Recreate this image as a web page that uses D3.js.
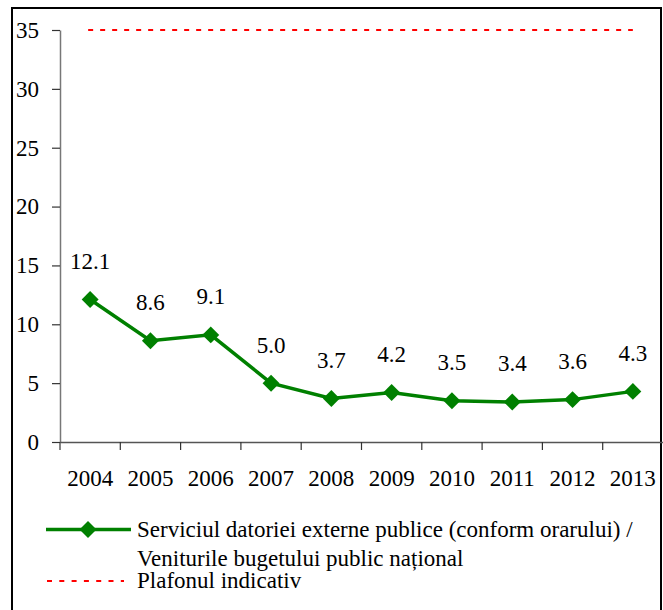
<!DOCTYPE html>
<html>
<head>
<meta charset="utf-8">
<script src="https://cdn.jsdelivr.net/npm/d3@7"></script>
<style>
  body { margin: 0; background: #fff; }
  svg, svg text { font-family: "Liberation Serif", "Times New Roman", serif !important; }
</style>
</head>
<body>
<svg width="663" height="610"></svg>
<script>
// chart data
var years = ["2004", "2005", "2006", "2007", "2008", "2009", "2010", "2011", "2012", "2013"];
var values = [12.1, 8.6, 9.1, 5.0, 3.7, 4.2, 3.5, 3.4, 3.6, 4.3];
var ceiling = 35;
var yTicks = [0, 5, 10, 15, 20, 25, 30, 35];
var seriesName = ["Serviciul datoriei externe publice (conform orarului) /", "Veniturile bugetului public național"];
var ceilingName = "Plafonul indicativ";

var svg = d3.select("svg");
var fs = 23;

// outer frame
svg.append("rect")
    .attr("x", 12).attr("y", 8)
    .attr("width", 649).attr("height", 610)
    .attr("fill", "none").attr("stroke", "#000").attr("stroke-width", 2);

var x = d3.scaleBand().domain(years).range([60, 663]);
var y = d3.scaleLinear().domain([0, 35]).range([442, 30]);

// y axis
var yAxis = svg.append("g")
    .attr("transform", "translate(60,0)")
    .call(d3.axisLeft(y).tickValues(yTicks).tickSize(8).tickPadding(13).tickSizeOuter(0));
yAxis.select(".domain").attr("stroke", "#777").attr("stroke-width", 1.5);
yAxis.selectAll(".tick line").attr("stroke", "#333").attr("stroke-width", 1.2);
yAxis.selectAll("text").style("font-size", fs + "px").attr("fill", "#000");

// x axis
var xAxis = svg.append("g")
    .attr("transform", "translate(0,442)")
    .call(d3.axisBottom(x).tickSize(0).tickPadding(28).tickSizeOuter(0));
xAxis.select(".domain").attr("stroke", "#555").attr("stroke-width", 1.5);
xAxis.selectAll("text").style("font-size", fs + "px").attr("fill", "#000");
// tick marks between categories
xAxis.selectAll(".sep")
    .data(years)
    .enter().append("line")
    .attr("x1", function (d) { return x(d); })
    .attr("x2", function (d) { return x(d); })
    .attr("y1", 0).attr("y2", 8)
    .attr("stroke", "#333").attr("stroke-width", 1.2);

function cx(d) { return x(d) + x.bandwidth() / 2; }

// ceiling line
svg.append("line")
    .attr("x1", cx(years[0]) - 2)
    .attr("x2", cx(years[years.length - 1]))
    .attr("y1", y(ceiling)).attr("y2", y(ceiling))
    .attr("stroke", "#ff0000").attr("stroke-width", 2)
    .attr("stroke-dasharray", "5,7");

var pts = years.map(function (d, i) { return { year: d, v: values[i] }; });

svg.append("path")
    .datum(pts)
    .attr("fill", "none")
    .attr("stroke", "#008000")
    .attr("stroke-width", 3.5)
    .attr("d", d3.line()
        .x(function (d) { return cx(d.year); })
        .y(function (d) { return y(d.v); }));

var diamond = d3.symbol().type(d3.symbolSquare).size(144);

svg.append("g").selectAll("path")
    .data(pts)
    .enter().append("path")
    .attr("d", diamond)
    .attr("fill", "#008000")
    .attr("transform", function (d) {
        return "translate(" + cx(d.year) + "," + y(d.v) + ") rotate(45)";
    });

// value labels
svg.append("g").selectAll("text")
    .data(pts)
    .enter().append("text")
    .attr("x", function (d) { return cx(d.year); })
    .attr("y", function (d) { return y(d.v) - 30.5; })
    .attr("text-anchor", "middle")
    .style("font-size", fs + "px")
    .text(function (d) { return d.v.toFixed(1); });

// legend
var lg = svg.append("g");
lg.append("line")
    .attr("x1", 46).attr("x2", 131).attr("y1", 529.5).attr("y2", 529.5)
    .attr("stroke", "#008000").attr("stroke-width", 3.5);
lg.append("path")
    .attr("d", diamond)
    .attr("fill", "#008000")
    .attr("transform", "translate(88,529.5) rotate(45)");
lg.selectAll(".lt")
    .data(seriesName)
    .enter().append("text")
    .attr("x", 137)
    .attr("y", function (d, i) { return 536.5 + i * 29; })
    .style("font-size", fs + "px")
    .text(function (d) { return d; });
lg.append("line")
    .attr("x1", 47).attr("x2", 124).attr("y1", 581).attr("y2", 581)
    .attr("stroke", "#ff0000").attr("stroke-width", 2)
    .attr("stroke-dasharray", "5,7.3");
lg.append("text")
    .attr("x", 137).attr("y", 587.5)
    .style("font-size", fs + "px")
    .text(ceilingName);
</script>
</body>
</html>
